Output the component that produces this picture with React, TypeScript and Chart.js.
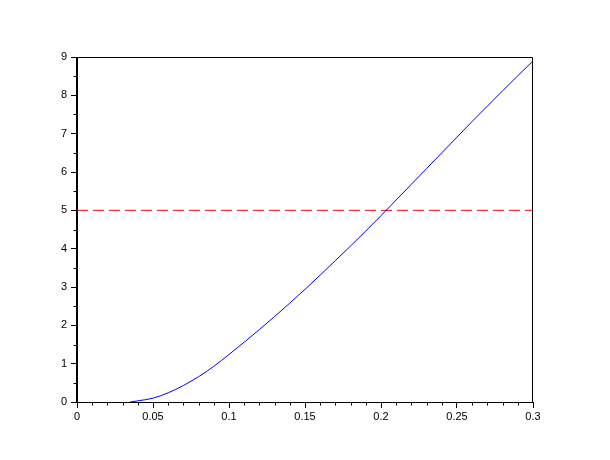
import React, { useEffect, useRef } from "react";
import { Chart, registerables } from "chart.js";

Chart.register(...registerables);

const curveX = [0.035, 0.04, 0.05, 0.06, 0.07, 0.08, 0.09, 0.1, 0.11, 0.12, 0.13, 0.14, 0.15, 0.16, 0.17, 0.18, 0.19, 0.2, 0.21, 0.22, 0.23, 0.24, 0.25, 0.26, 0.27, 0.28, 0.29, 0.3];
const curveY = [0, 0.03, 0.1, 0.24, 0.43, 0.66, 0.93, 1.24, 1.56, 1.89, 2.23, 2.58, 2.94, 3.31, 3.69, 4.07, 4.46, 4.86, 5.27, 5.68, 6.09, 6.5, 6.91, 7.32, 7.72, 8.12, 8.51, 8.9];
const thresholdY = 5;
const xTickLabels = ["0", "0.05", "0.1", "0.15", "0.2", "0.25", "0.3"];
const yTickLabels = ["0", "1", "2", "3", "4", "5", "6", "7", "8", "9"];

const frameAndMinor = {
  id: "frameAndMinor",
  afterDraw(chart: any) {
    const { ctx, chartArea } = chart;
    const xs = chart.scales.x;
    const ys = chart.scales.y;
    ctx.save();
    ctx.strokeStyle = "#000";
    ctx.lineWidth = 1;
    ctx.beginPath();
    ctx.rect(Math.round(chartArea.left) - 0.5, Math.round(chartArea.top) + 0.5, Math.round(chartArea.right - chartArea.left), Math.round(chartArea.bottom - chartArea.top));
    for (let i = 0; i <= 30; i++) {
      if (i % 5 === 0) continue;
      const px = Math.round(xs.getPixelForValue(i / 100)) + 0.5;
      ctx.moveTo(px, Math.round(chartArea.bottom) + 0.5);
      ctx.lineTo(px, Math.round(chartArea.bottom) + 3.5);
    }
    for (let i = 0; i <= 18; i++) {
      if (i % 2 === 0) continue;
      const py = Math.round(ys.getPixelForValue(i / 2)) + 0.5;
      ctx.moveTo(Math.round(chartArea.left) - 0.5, py);
      ctx.lineTo(Math.round(chartArea.left) - 3.5, py);
    }
    ctx.stroke();
    ctx.restore();
  },
};

export default function App() {
  const ref = useRef<HTMLCanvasElement>(null);
  useEffect(() => {
    if (!ref.current) return;
    const font = { family: "'Liberation Sans', Arial, sans-serif", size: 11 };
    const chart = new Chart(ref.current, {
      type: "line",
      data: {
        datasets: [
          {
            data: curveX.map((x, i) => ({ x, y: curveY[i] })),
            borderColor: "#0000ff",
            borderWidth: 1,
            pointRadius: 0,
            cubicInterpolationMode: "monotone",
            fill: false,
          },
          {
            data: [
              { x: 0, y: thresholdY },
              { x: 0.3, y: thresholdY },
            ],
            borderColor: "#ff0000",
            borderWidth: 1,
            borderDash: [11, 5],
            pointRadius: 0,
            fill: false,
          },
        ],
      },
      options: {
        responsive: false,
        animation: false,
        layout: { padding: { left: 0, top: 57, right: 77, bottom: 0 } },
        plugins: { legend: { display: false }, tooltip: { enabled: false } },
        scales: {
          x: {
            type: "linear",
            min: 0,
            max: 0.3,
            afterFit: (s: any) => {
              s.height = 58;
            },
            ticks: {
              stepSize: 0.05,
              color: "#000",
              font,
              padding: 2,
              maxRotation: 0,
              callback: (_v: any, i: number) => xTickLabels[i],
            },
            grid: { drawOnChartArea: false, color: "#000", tickLength: 6 },
            border: { display: true, color: "#000" },
          },
          y: {
            type: "linear",
            min: 0,
            max: 9,
            afterFit: (s: any) => {
              s.width = 77;
            },
            ticks: {
              stepSize: 1,
              color: "#000",
              font,
              padding: 4,
              callback: (_v: any, i: number) => yTickLabels[i],
            },
            grid: { drawOnChartArea: false, color: "#000", tickLength: 6 },
            border: { display: true, color: "#000" },
          },
        },
      },
      plugins: [frameAndMinor],
    });
    return () => chart.destroy();
  }, []);
  return (
    <div style={{ position: "fixed", left: 0, top: 0, width: 610, height: 460, background: "#fff" }}>
      <canvas ref={ref} width={610} height={460} />
    </div>
  );
}
